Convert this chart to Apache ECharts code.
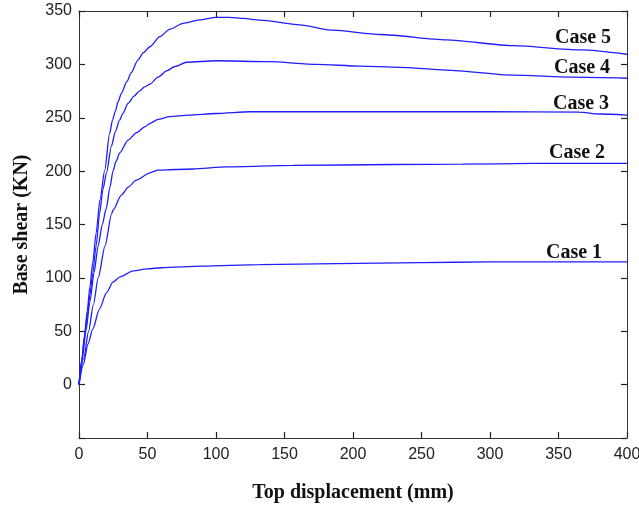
<!DOCTYPE html>
<html>
<head>
<meta charset="utf-8">
<script src="https://cdn.jsdelivr.net/npm/echarts@6/dist/echarts.min.js"></script>
<style>
html,body{margin:0;padding:0;background:#fff;}
#chart{width:639px;height:506px;}
</style>
</head>
<body>
<div id="chart"></div>
<script>
// Data: [top displacement (mm), base shear (KN)]
var seriesNames = ['Case 1', 'Case 2', 'Case 3', 'Case 4', 'Case 5'];

var case1 = [[0,0],[3,18],[6.6,38],[10,52],[15,71],[20,86],[24.8,96],[30,101],[39.5,106.5],[50,108.5],[60,109.5],[90,111],[132,112.5],[188,113.4],[250,114.3],[300,115],[350,115],[400,115]];

var case2 = [[0,0],[3.5,25],[7,50],[10.5,75],[14,100],[19,130],[23.8,160],[24.8,163.4],[30.9,177.5],[36,185],[41.8,191.5],[51.8,198.4],[57.7,201],[70,201.5],[83,202],[108,204],[156,205.3],[229,206.2],[280,206.5],[331,207.2],[400,207.2]];

var case3 = [[0,0],[2.5,25],[5,50],[8,78],[11,105],[14,130],[17,150],[19.9,165],[22.6,185],[24.8,200],[27,209],[29.7,217],[35.8,229],[42,236],[48,241.5],[51.8,244.7],[57.7,248.5],[66,251],[80,252.5],[100,254],[125,255.6],[200,255.6],[300,255.6],[365,255.3],[380,253.5],[400,252.5]];

var case4 = [[0,0],[2,22],[4,44],[6,64],[8,84],[10,104],[12.5,130],[15,160],[17.5,183],[20,198],[23.6,223],[26.5,237],[29.7,248],[32,254],[35.8,263.4],[40,270],[44,275],[48,279],[51.8,281.5],[57.7,288],[64,294],[70,298],[78.6,302],[100,303.4],[139,302.5],[173.5,300],[205,298.4],[234,297.2],[268,294.7],[317,290],[360,288],[400,287]];

var case5 = [[0,0],[2,23],[4,46],[6,69],[8,92],[10,114],[12.5,142],[15.3,173],[18.8,201],[22.3,235],[24.5,248],[26.5,256],[28.5,265],[31,273],[35,284],[38,292],[43,304],[47,311],[51.8,316.5],[59,326],[66.4,333],[76,338.5],[88,341.6],[100,344],[110,344],[120,343],[132,341.5],[161,337],[185,332],[220,328],[268,323],[317,317.5],[366,313.5],[400,309.5]];

var xTicks = [0,50,100,150,200,250,300,350,400];
var yTicks = [0,50,100,150,200,250,300,350];

var chart = echarts.init(document.getElementById('chart'));

var allData = [case1, case2, case3, case4, case5];
var lineColor = '#1e1eff';
var axisColor = '#333333';
var tickFont = {fontFamily:'Liberation Sans, Arial, sans-serif', fontSize:16, color:'#222222'};

function mkSeries(name, data){
  return {
    name: name, type:'line', data:data, xAxisIndex:0, yAxisIndex:0,
    showSymbol:false, symbol:'none', smooth:0.25, smoothMonotone:'x',
    lineStyle:{color:lineColor, width:1.3}, animation:false, silent:true
  };
}

var labelStyle = {font:'bold 20px "Liberation Serif", "Times New Roman", serif', fill:'#111', textAlign:'center', textVerticalAlign:'middle'};
var labelPos = [[574,253],[577,153],[581,104],[582,68],[583,38]];

function frameAxis(extra){
  return Object.assign({
    axisLine:{show:true, onZero:false, lineStyle:{color:axisColor, width:1}},
    axisTick:{show:true, inside:true, length:6, lineStyle:{color:'#222222', width:1.2}},
    splitLine:{show:false}
  }, extra);
}

var option = {
  backgroundColor:'#ffffff',
  animation:false,
  grid:{left:79, right:12, top:11, bottom:68, outerBoundsMode:'none'},
  xAxis:[
    frameAxis({
      type:'value', min:0, max:400, interval:50, position:'bottom',
      axisLabel:Object.assign({margin:9, formatter:function(v){return xTicks.indexOf(v)>=0? String(v):'';}}, tickFont),
      name:'Top displacement (mm)', nameLocation:'middle', nameGap:45,
      nameTextStyle:{fontFamily:'Liberation Serif, Times New Roman, serif', fontWeight:'bold', fontSize:20, color:'#111'}
    }),
    frameAxis({type:'value', min:0, max:400, interval:50, position:'top', axisLabel:{show:false}})
  ],
  yAxis:[
    frameAxis({
      type:'value', min:-50, max:350, interval:50, position:'left',
      axisLabel:Object.assign({margin:7, formatter:function(v){return yTicks.indexOf(v)>=0? String(v):'';}}, tickFont),
      name:'Base shear (KN)', nameLocation:'middle', nameGap:47, nameRotate:90,
      nameTextStyle:{fontFamily:'Liberation Serif, Times New Roman, serif', fontWeight:'bold', fontSize:20, color:'#111'}
    }),
    frameAxis({type:'value', min:-50, max:350, interval:50, position:'right', axisLabel:{show:false}})
  ],
  series: allData.map(function(d,i){ return mkSeries(seriesNames[i], d); }),
  graphic: seriesNames.map(function(n,i){
    return {type:'text', x:labelPos[i][0], y:labelPos[i][1], silent:true,
            style:Object.assign({text:n}, labelStyle)};
  })
};
chart.setOption(option);
</script>
</body>
</html>
